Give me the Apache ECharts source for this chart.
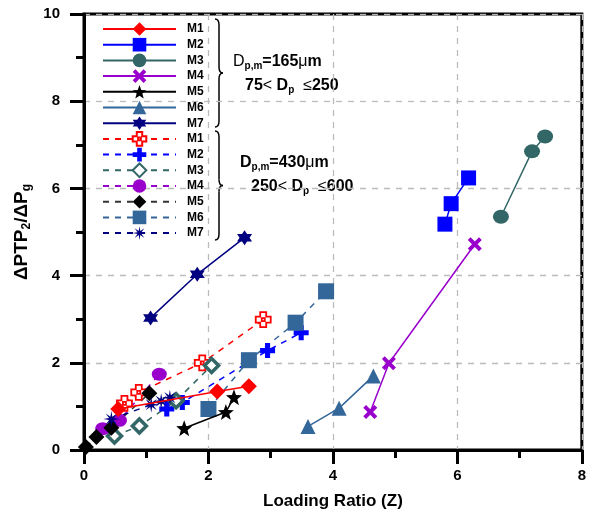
<!DOCTYPE html>
<html>
<head>
<meta charset="utf-8">
<script src="https://cdn.jsdelivr.net/npm/echarts@6/dist/echarts.min.js"></script>
<style>
html,body{margin:0;padding:0;background:#fff;}
#chart{width:589px;height:515px;}
</style>
</head>
<body>
<div id="chart"></div>
<script>
// ---- data (Loading ratio Z, ΔP_TP2/ΔP_g) ----
const seriesNames = ['M1','M2','M3','M4','M5','M6','M7'];
// Dp,m = 165 µm (solid lines)
const M1_165 = [[0.55,0.94],[2.14,1.34],[2.65,1.46]];
const M2_165 = [[5.80,5.18],[5.90,5.65],[6.18,6.24]];
const M3_165 = [[6.70,5.35],[7.20,6.85],[7.41,7.19]];
const M4_165 = [[4.60,0.87],[4.90,1.99],[6.28,4.72]];
const M5_165 = [[1.61,0.50],[2.28,0.87],[2.41,1.21]];
const M6_165 = [[3.60,0.54],[4.10,0.96],[4.65,1.70]];
const M7_165 = [[1.07,3.03],[1.82,4.03],[2.58,4.87]];
// Dp,m = 430 µm (dashed lines)
const M1_430 = [[0.65,1.07],[0.88,1.32],[1.90,2.00],[2.88,2.99]];
const M2_430 = [[1.33,0.94],[1.58,1.09],[2.95,2.28],[3.49,2.69]];
const M3_430 = [[0.49,0.32],[0.89,0.55],[1.48,1.13],[2.05,1.94]];
const M4_430 = [[0.30,0.49],[0.57,0.68],[1.21,1.74]];
const M5_430 = [[0.03,0.07],[0.20,0.30],[0.44,0.51],[1.05,1.30]];
const M6_430 = [[2.00,0.94],[2.65,2.06],[3.40,2.92],[3.89,3.64]];
const M7_430 = [[0.44,0.71],[1.08,1.04],[1.24,1.12],[1.38,1.20]];
const xTicks = [0,2,4,6,8];
const yTicks = [0,2,4,6,8,10];

// ---- symbol shapes ----
function starPath(n, rO, rI, start){
  let pts=[];
  for(let i=0;i<2*n;i++){
    const r = i%2===0 ? rO : rI;
    const a = start + i*Math.PI/n;
    pts.push((5+r*Math.cos(a)).toFixed(2)+','+(5+r*Math.sin(a)).toFixed(2));
  }
  return 'path://M'+pts.join(' L')+' Z';
}
const SYM_X = 'path://M2,0 L5,3 L8,0 L10,2 L7,5 L10,8 L8,10 L5,7 L2,10 L0,8 L3,5 L0,2 Z';
const SYM_STAR5 = starPath(5,5,2.1,-Math.PI/2);
const SYM_STAR6 = starPath(6,5,2.9,-Math.PI/2);
const SYM_AST = starPath(8,5,1.6,-Math.PI/2);
const SYM_PLUS = 'path://M3.3,0 H6.7 V3.3 H10 V6.7 H6.7 V10 H3.3 V6.7 H0 V3.3 H3.3 Z';
const SYM_HPLUS = 'path://M3,0 H7 V3 H10 V7 H7 V10 H3 V7 H0 V3 H3 Z M4,4 H6 V6 H4 Z';

const FONT = "'Liberation Sans', Arial, sans-serif";
const RED='#ff0000', BLUE='#0000ff', TEAL='#336666', PURPLE='#9900cc', BLACK='#000000', STEEL='#336699', NAVY='#000080';

function mk(name, data, color, symbol, size, dashed, extra){
  const s = {
    name: name, type:'line', data: data,
    symbol: symbol, symbolSize: size,
    lineStyle:{color: color, width:1.5, type: dashed ? [6,6] : 'solid'},
    itemStyle:{color: color},
    emphasis:{disabled:true},
    animation:false, z: dashed ? 3 : 4
  };
  if(extra) Object.assign(s.itemStyle, extra);
  return s;
}

const series = [
  mk('M1 a', M1_165, RED, 'diamond', 16, false),
  mk('M2 a', M2_165, BLUE, 'rect', 15, false),
  mk('M3 a', M3_165, TEAL, 'circle', [16,14], false),
  mk('M4 a', M4_165, PURPLE, SYM_X, 14, false),
  mk('M5 a', M5_165, BLACK, SYM_STAR5, 16, false),
  mk('M6 a', M6_165, STEEL, 'triangle', 15, false),
  mk('M7 a', M7_165, NAVY, SYM_STAR6, 15, false),
  mk('M1 b', M1_430, RED, SYM_HPLUS, 15, true, {color:'#ffffff', borderColor:RED, borderWidth:1.8}),
  mk('M2 b', M2_430, BLUE, SYM_PLUS, 15, true),
  mk('M3 b', M3_430, TEAL, 'diamond', 14, true, {color:'#ffffff', borderColor:TEAL, borderWidth:3.5}),
  mk('M4 b', M4_430, PURPLE, 'circle', [15,13], true),
  mk('M5 b', M5_430, BLACK, 'diamond', 16, true),
  mk('M6 b', M6_430, STEEL, 'rect', 16, true),
  mk('M7 b', M7_430, NAVY, SYM_AST, 16, true)
];
series[11].lineStyle.color = '#333333';

function brace(y0, y1){
  const ym = (y0+y1)/2, x0 = 215, x1 = 219, xp = 223;
  const st = {stroke:'#000', lineWidth:1.5, fill:'none'};
  const q = (a,b,c,d,e,f) => ({type:'bezierCurve', silent:true, shape:{x1:a,y1:b,cpx1:c,cpy1:d,x2:e,y2:f}, style:st});
  const l = (a,b,c,d) => ({type:'line', silent:true, shape:{x1:a,y1:b,x2:c,y2:d}, style:st});
  return {type:'group', children:[
    q(x0,y0,x1,y0,x1,y0+6), l(x1,y0+6,x1,ym-6), q(x1,ym-6,x1,ym,xp,ym),
    q(xp,ym,x1,ym,x1,ym+6), l(x1,ym+6,x1,y1-6), q(x1,y1-6,x1,y1,x0,y1)
  ]};
}
const rich = {
  r:{fontFamily:FONT, fontSize:16, fontWeight:'normal', fill:'#000'},
  b:{fontFamily:FONT, fontSize:16, fontWeight:'bold', fill:'#000'},
  s:{fontFamily:FONT, fontSize:10, fontWeight:'bold', fill:'#000', padding:[9,0,0,0]}
};
function txt(x, y, t){
  return {type:'text', left:x, top:y, silent:true, style:{text:t, rich:rich, fontFamily:FONT, fontSize:16, fill:'#000'}};
}

const option = {
  backgroundColor:'#ffffff',
  animation:false,
  grid:{left:84, right:3, top:14, bottom:62, show:true, borderColor:'#000', borderWidth:3, backgroundColor:'transparent'},
  legend:{
    orient:'vertical', left:97, top:15.5,
    itemWidth:73, itemHeight:17, itemGap:-1.3,
    data: series.map(s=>s.name),
    formatter: n => n.split(' ')[0],
    textStyle:{fontFamily:FONT, fontSize:12, fontWeight:'bold', color:'#000', padding:[0,0,0,6], lineHeight:17},
    selectedMode:false
  },
  xAxis:{
    type:'value', min:xTicks[0], max:xTicks[xTicks.length-1], interval:2,
    name:'Loading Ratio (Z)', nameLocation:'middle', nameGap:43,
    nameTextStyle:{fontFamily:FONT, fontSize:17, fontWeight:'bold', color:'#000'},
    axisLine:{show:true, lineStyle:{color:'#000', width:3}},
    axisTick:{show:true, length:14, lineStyle:{color:'#000', width:3}},
    minorTick:{show:true, splitNumber:2, length:8, lineStyle:{color:'#000', width:3}},
    axisLabel:{margin:18, fontFamily:FONT, fontSize:15, fontWeight:'bold', color:'#000'},
    splitLine:{show:true, lineStyle:{color:'#bbbbbb', width:1.3, type:[6,6]}}
  },
  yAxis:{
    type:'value', min:yTicks[0], max:yTicks[yTicks.length-1], interval:2,
    name:'ΔPTP{s|2}/ΔP{s|g}', nameLocation:'middle', nameGap:50,
    nameTextStyle:{fontFamily:FONT, fontSize:19, fontWeight:'bold', color:'#000',
      rich:{s:{fontFamily:FONT, fontSize:12, fontWeight:'bold', color:'#000', padding:[9,0,0,0]}}},
    axisLine:{show:true, lineStyle:{color:'#000', width:3}},
    axisTick:{show:true, length:14, lineStyle:{color:'#000', width:3}},
    minorTick:{show:true, splitNumber:2, length:8, lineStyle:{color:'#000', width:3}},
    axisLabel:{margin:24, fontFamily:FONT, fontSize:15, fontWeight:'bold', color:'#000'},
    splitLine:{show:true, lineStyle:{color:'#bbbbbb', width:1.3, type:[6,6]}}
  },
  graphic:[
    brace(19,127), brace(131,240),
    txt(233, 54, '{r|D}{s|p,m}{b|=165}{r|μ}{b|m}'),
    txt(245, 78, '{b|75}{r|< }{b|D}{s|p}{r|  ≤}{b|250}'),
    txt(240, 155, '{b|D}{s|p,m}{b|=430}{r|μ}{b|m}'),
    txt(251, 179, '{b|250}{r|< }{b|D}{s|p}{r|  ≤}{b|600}')
  ],
  series: series
};
const chart = echarts.init(document.getElementById('chart'), null, {renderer:'canvas'});
chart.setOption(option);
</script>
</body>
</html>
